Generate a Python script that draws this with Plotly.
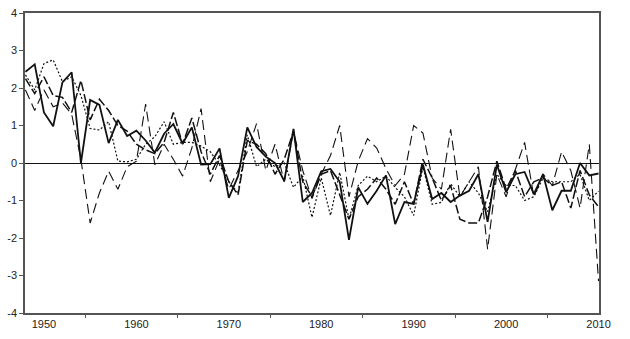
import plotly.graph_objects as go

years = list(range(1948, 2011))

# Solid series
series_a = [2.43, 2.63,
            1.35, 0.98, 2.15, 2.42, 0.0, 1.68, 1.55, 0.53, 1.15, 0.72,
            0.86, 0.6, 0.28, 0.78, 1.04, 0.52, 0.95, -0.04, -0.03, 0.39,
            -0.93, -0.35, 0.95, 0.43, 0.17, 0.0, -0.48, 0.91, -1.04, -0.8,
            -0.22, -0.16, -0.5, -2.05, -0.65, -1.09, -0.74, -0.33, -1.63, -1.04,
            -1.09, -0.04, -0.96, -0.8, -1.04, -0.87, -0.74, -0.3, -1.57, -0.04,
            -0.78, -0.3, -0.24, -0.83, -0.3, -1.26, -0.74, -0.74, 0.0, -0.33, -0.28]

# Long-dash series
series_b = [2.25, 1.85,
            2.3, 1.8, 1.75, 1.35, 2.2, 1.15, 1.7, 1.4, 1.0, 0.85,
            0.5, 0.35, 0.25, 0.55, 1.35, 0.5, 1.2, 0.3, -0.3, 0.2,
            -0.5, -0.85, 0.6, 0.5, 0.25, -0.3, 0.1, 0.85, -0.5, -0.9,
            -0.3, -0.2, -0.85, -1.5, -0.9, -0.7, -0.4, -0.7, -1.1, -0.5,
            -1.1, 0.1, -0.4, -1.0, -0.6, -1.5, -1.6, -1.6, -0.9, 0.05,
            -0.7, -0.2, -0.9, -0.5, -0.4, -0.6, -0.5, -1.2, -0.2, -0.85, -1.17]

# Open-dash series
series_c = [1.95, 1.4,
            1.95, 1.5, 1.6, 1.3, 0.1, -1.6, -0.8, -0.22, -0.7, -0.1,
            0.05, 1.57, -0.05, 0.5, 0.1, -0.35, 0.4, 1.45, -0.5, 0.1,
            -0.7, -0.2, 0.3, 1.05, -0.2, 0.5, -0.5, 0.85, -0.2, -0.95,
            -0.3, 0.2, 1.0, -0.9, 0.05, 0.65, 0.4, -0.15, -0.6, -0.3,
            1.0, 0.8, -0.4, -0.7, 0.9, -0.9, -0.5, -0.1, -2.3, -0.3,
            -0.9, -0.2, 0.55, -0.9, -0.3, -0.6, 0.3, -0.2, -1.2, 0.5, -3.15]

# Dotted series
series_d = [2.35, 1.95,
            2.65, 2.75, 2.17, 2.3, 1.8, 0.92, 0.88, 1.1, 0.05, 0.03,
            0.1, 0.5, 0.7, 1.1, 0.5, 0.55, 0.55, 0.45, 0.3, -0.05,
            -0.5, -0.8, 0.75, -0.1, 0.1, -0.1, 0.0, -0.65, -0.35, -1.45,
            -0.4, -1.4, -0.25, -1.5, -0.6, -0.35, -0.5, -0.35, -0.65, -0.9,
            -1.4, -0.1, -1.1, -1.05, -0.55, -0.9, -0.5, -0.8, -1.3, -0.3,
            -0.6, -0.6, -1.0, -0.9, -0.4, -0.5, -0.5, -0.5, -0.3, -1.0, -0.75]

x_labels = [1950, 1960, 1970, 1980, 1990, 2000, 2010]
y_ticks = [-4, -3, -2, -1, 0, 1, 2, 3, 4]
x_minor = [1954.5, 1964.5, 1974.5, 1984.5, 1994.5, 2004.5]

ink = "#111111"
font_family = "Liberation Sans Narrow, Arial Narrow, Liberation Sans, Arial, sans-serif"

fig = go.Figure()
styles = [
    (series_c, dict(color=ink, width=1.1, dash="10px,5px")),
    (series_d, dict(color=ink, width=1.2, dash="2px,2px")),
    (series_b, dict(color=ink, width=1.5, dash="9px,3px")),
    (series_a, dict(color=ink, width=1.8)),
]
for vals, line in styles:
    fig.add_trace(go.Scatter(x=years, y=vals, mode="lines", line=line,
                             showlegend=False, hoverinfo="skip"))

fig.update_layout(
    width=630, height=339,
    margin=dict(l=25, r=31, t=7, b=26),
    paper_bgcolor="white", plot_bgcolor="white",
    font=dict(family=font_family, size=11, color="#222222"),
)
fig.update_xaxes(
    range=[1947.95, 2010.05],
    tickmode="array", tickvals=x_labels, ticktext=[str(v) for v in x_labels],
    ticks="", showgrid=False, zeroline=False,
    showline=True, mirror=True, linecolor="#555555", linewidth=1.5,
    tickfont=dict(size=11),
    minor=dict(tickmode="array", tickvals=x_minor, ticks="outside",
               ticklen=3, tickcolor="#555555", showgrid=False),
)
fig.update_yaxes(
    range=[-4, 4],
    tickmode="array", tickvals=y_ticks, ticktext=[str(v) for v in y_ticks],
    ticks="outside", ticklen=4, tickcolor="#555555",
    showgrid=False,
    zeroline=True, zerolinecolor=ink, zerolinewidth=1.3,
    showline=True, mirror=True, linecolor="#555555", linewidth=1.5,
    tickfont=dict(size=11),
)

fig.write_html("out.html")
